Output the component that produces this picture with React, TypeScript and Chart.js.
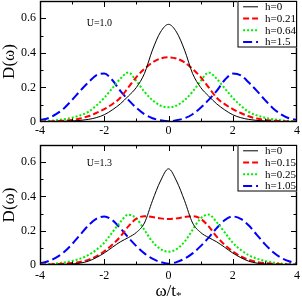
import React, { useEffect, useRef } from "react";
import { Chart, registerables } from "chart.js";

Chart.register(...registerables);

// ---- data ----
const omega = [-4, -3.75, -3.5, -3.25, -3, -2.75, -2.5, -2.25, -2, -1.75, -1.5, -1.25, -1, -0.75, -0.5, -0.25, 0, 0.25, 0.5, 0.75, 1, 1.25, 1.5, 1.75, 2, 2.25, 2.5, 2.75, 3, 3.25, 3.5, 3.75, 4];

const xTickValues = [-4, -2, 0, 2, 4];
const xTickLabels = ["-4", "-2", "0", "2", "4"];
const xMinorTicks = [-3, -1, 1, 3];
const yTickValues = [0, 0.2, 0.4, 0.6];
const yTickLabels = ["0", "0.2", "0.4", "0.6"];
const yMinorTicks = [0.1, 0.3, 0.5];

const topLabels = ["h=0", "h=0.21", "h=0.64", "h=1.5"];
const bottomLabels = ["h=0", "h=0.15", "h=0.25", "h=1.05"];

// U = 1.0 panel
const topH0 = [0.001, 0.002, 0.003, 0.004, 0.006, 0.009, 0.015, 0.025, 0.042, 0.07, 0.105, 0.15, 0.2, 0.28, 0.416, 0.52, 0.565, 0.52, 0.416, 0.28, 0.2, 0.15, 0.105, 0.07, 0.042, 0.025, 0.015, 0.009, 0.006, 0.004, 0.003, 0.002, 0.001];
const topH021 = [0.002, 0.003, 0.005, 0.008, 0.012, 0.02, 0.033, 0.052, 0.075, 0.103, 0.14, 0.2, 0.26, 0.307, 0.345, 0.367, 0.374, 0.367, 0.345, 0.307, 0.26, 0.2, 0.14, 0.103, 0.075, 0.052, 0.033, 0.02, 0.012, 0.008, 0.005, 0.003, 0.002];
const topH064 = [0.003, 0.006, 0.01, 0.016, 0.025, 0.038, 0.058, 0.095, 0.14, 0.195, 0.25, 0.286, 0.237, 0.175, 0.127, 0.095, 0.085, 0.095, 0.127, 0.175, 0.237, 0.286, 0.25, 0.195, 0.14, 0.095, 0.058, 0.038, 0.025, 0.016, 0.01, 0.006, 0.003];
const topH15 = [0.011, 0.022, 0.045, 0.08, 0.128, 0.18, 0.228, 0.27, 0.28, 0.243, 0.18, 0.128, 0.082, 0.045, 0.022, 0.01, 0.004, 0.01, 0.022, 0.045, 0.082, 0.128, 0.18, 0.243, 0.28, 0.27, 0.228, 0.18, 0.128, 0.08, 0.045, 0.022, 0.011];

// U = 1.3 panel
const botH0 = [0.001, 0.001, 0.002, 0.004, 0.006, 0.011, 0.022, 0.043, 0.07, 0.103, 0.135, 0.16, 0.19, 0.245, 0.375, 0.49, 0.561, 0.49, 0.375, 0.245, 0.19, 0.16, 0.135, 0.103, 0.07, 0.043, 0.022, 0.011, 0.006, 0.004, 0.002, 0.001, 0.001];
const botH015 = [0.002, 0.003, 0.005, 0.007, 0.011, 0.018, 0.03, 0.05, 0.08, 0.118, 0.165, 0.225, 0.27, 0.285, 0.28, 0.272, 0.268, 0.272, 0.28, 0.285, 0.27, 0.225, 0.165, 0.118, 0.08, 0.05, 0.03, 0.018, 0.011, 0.007, 0.005, 0.003, 0.002];
const botH025 = [0.003, 0.005, 0.009, 0.015, 0.024, 0.037, 0.057, 0.088, 0.13, 0.19, 0.25, 0.294, 0.272, 0.205, 0.136, 0.093, 0.078, 0.093, 0.136, 0.205, 0.272, 0.294, 0.25, 0.19, 0.13, 0.088, 0.057, 0.037, 0.024, 0.015, 0.009, 0.005, 0.003];
const botH105 = [0.01, 0.022, 0.043, 0.076, 0.122, 0.176, 0.23, 0.269, 0.283, 0.262, 0.215, 0.16, 0.11, 0.068, 0.037, 0.017, 0.008, 0.017, 0.037, 0.068, 0.11, 0.16, 0.215, 0.262, 0.283, 0.269, 0.23, 0.176, 0.122, 0.076, 0.043, 0.022, 0.01];

const SERIF = '"Liberation Serif", "Times New Roman", "DejaVu Serif", serif';

const lineStyles = [
  { color: "#000000", width: 1, dash: [] as number[] },
  { color: "#ff0000", width: 2, dash: [6, 3] },
  { color: "#00ee00", width: 2, dash: [2, 2] },
  { color: "#0000ff", width: 2, dash: [9, 4] },
];

type PanelProps = {
  top: number;
  height: number;
  areaTop: number;
  xAxisHeight: number;
  tickPad: number;
  series: number[][];
  labels: string[];
  uText: string;
  uX: number;
  uY: number;
  showXTitle: boolean;
};

function Panel(p: PanelProps) {
  const ref = useRef<HTMLCanvasElement>(null);
  useEffect(() => {
    const canvas = ref.current!;
    const deco = {
      id: "deco",
      afterDraw(chart: any) {
        const { ctx, chartArea: a, scales } = chart;
        const xs = scales.x;
        const ys = scales.y;
        ctx.save();
        ctx.fillStyle = "#000";
        ctx.strokeStyle = "#000";
        // panel label
        ctx.font = `10px ${SERIF}`;
        ctx.textAlign = "center";
        ctx.textBaseline = "middle";
        ctx.fillText(p.uText, xs.getPixelForValue(p.uX), ys.getPixelForValue(p.uY));
        // ticks (inward, all four sides)
        ctx.lineWidth = 1;
        const xt = (vals: number[], len: number) => {
          vals.forEach((v) => {
            const px = Math.round(xs.getPixelForValue(v)) + 0.5;
            ctx.beginPath();
            ctx.moveTo(px, a.bottom);
            ctx.lineTo(px, a.bottom - len);
            ctx.moveTo(px, a.top);
            ctx.lineTo(px, a.top + len);
            ctx.stroke();
          });
        };
        const yt = (vals: number[], len: number) => {
          vals.forEach((v) => {
            const py = Math.round(ys.getPixelForValue(v)) + 0.5;
            ctx.beginPath();
            ctx.moveTo(a.left, py);
            ctx.lineTo(a.left + len, py);
            ctx.moveTo(a.right, py);
            ctx.lineTo(a.right - len, py);
            ctx.stroke();
          });
        };
        xt(xTickValues.slice(1, -1), 6);
        xt(xMinorTicks, 3.5);
        yt(yTickValues.slice(1), 6);
        yt(yMinorTicks, 3.5);
        // frame
        ctx.lineWidth = 1.4;
        ctx.strokeRect(a.left + 0.5, a.top + 0.5, a.right - a.left - 1, a.bottom - a.top - 1);
        // legend
        const bw = 59.5;
        const bh = 46.5;
        const bx = a.right - bw;
        const by = a.top;
        ctx.fillStyle = "#fff";
        ctx.fillRect(bx, by, bw, bh);
        ctx.lineWidth = 1;
        ctx.strokeStyle = "#000";
        ctx.strokeRect(bx + 0.5, by + 0.5, bw - 1, bh - 1);
        chart.data.datasets.forEach((ds: any, i: number) => {
          const y = by + 5.8 + i * 11.7;
          ctx.strokeStyle = ds.borderColor;
          ctx.lineWidth = ds.borderWidth;
          ctx.setLineDash(ds.borderDash || []);
          ctx.beginPath();
          ctx.moveTo(bx + 5.6, y);
          ctx.lineTo(bx + 20.5, y);
          ctx.stroke();
          ctx.setLineDash([]);
          ctx.fillStyle = "#000";
          ctx.font = `11px ${SERIF}`;
          ctx.textAlign = "left";
          ctx.textBaseline = "middle";
          ctx.fillText(ds.label, bx + 27.6, y + 0.5);
        });
        // y title
        ctx.fillStyle = "#000";
        ctx.save();
        ctx.translate(9.5, (a.top + a.bottom) / 2);
        ctx.rotate(-Math.PI / 2);
        ctx.font = `17px ${SERIF}`;
        ctx.textAlign = "center";
        ctx.textBaseline = "middle";
        ctx.fillText("D(ω)", 0, 0);
        ctx.restore();
        // x title
        if (p.showXTitle) {
          ctx.font = `17px ${SERIF}`;
          const main = "ω/t";
          const w1 = ctx.measureText(main).width;
          ctx.font = `11px ${SERIF}`;
          const w2 = ctx.measureText("*").width;
          const x0 = (a.left + a.right) / 2 - (w1 + w2) / 2;
          const base = a.bottom + 30.7;
          ctx.textAlign = "left";
          ctx.textBaseline = "alphabetic";
          ctx.font = `17px ${SERIF}`;
          ctx.fillText(main, x0, base);
          ctx.font = `11px ${SERIF}`;
          ctx.fillText("*", x0 + w1, base + 3);
        }
        ctx.restore();
      },
    };

    const chart = new Chart(canvas, {
      type: "line",
      data: {
        datasets: p.series.map((s, i) => ({
          label: p.labels[i],
          data: omega.map((x, j) => ({ x, y: s[j] })),
          borderColor: lineStyles[i].color,
          borderWidth: lineStyles[i].width,
          borderDash: lineStyles[i].dash,
          pointRadius: 0,
          fill: false,
          cubicInterpolationMode: "monotone" as const,
        })),
      },
      options: {
        responsive: false,
        animation: false,
        devicePixelRatio: 1,
        layout: { padding: { top: p.areaTop, right: 5, left: 0, bottom: 0 } },
        plugins: { legend: { display: false }, tooltip: { enabled: false } },
        scales: {
          x: {
            type: "linear",
            min: -4,
            max: 4,
            grid: { display: false, drawTicks: false },
            border: { display: false },
            afterBuildTicks: (s: any) => {
              s.ticks = xTickValues.map((v) => ({ value: v }));
            },
            afterFit: (s: any) => {
              s.height = p.xAxisHeight;
              s.paddingLeft = 0;
              s.paddingRight = 0;
            },
            ticks: {
              autoSkip: false,
              maxRotation: 0,
              padding: p.tickPad,
              color: "#000",
              font: { family: SERIF, size: 12 },
              callback: (_v: any, i: number) => xTickLabels[i],
            },
          },
          y: {
            type: "linear",
            min: 0,
            max: 0.7,
            grid: { display: false, drawTicks: false },
            border: { display: false },
            afterBuildTicks: (s: any) => {
              s.ticks = yTickValues.map((v) => ({ value: v }));
            },
            afterFit: (s: any) => {
              s.width = 40;
              s.paddingTop = 0;
              s.paddingBottom = 0;
            },
            ticks: {
              autoSkip: false,
              padding: 4,
              color: "#000",
              font: { family: SERIF, size: 12 },
              callback: (_v: any, i: number) => yTickLabels[i],
            },
          },
        },
      } as any,
      plugins: [deco],
    });
    return () => chart.destroy();
  }, []);
  return (
    <canvas
      ref={ref}
      width={302}
      height={p.height}
      style={{ position: "absolute", left: 0, top: p.top, width: 302, height: p.height, display: "block" }}
    />
  );
}

export default function App() {
  return (
    <div style={{ position: "absolute", left: 0, top: 0, width: 302, height: 300, background: "#fff", overflow: "hidden" }}>
      <Panel
        top={0}
        height={143}
        areaTop={1}
        xAxisHeight={21}
        tickPad={2}
        series={[topH0, topH021, topH064, topH15]}
        labels={topLabels}
        uText="U=1.0"
        uX={-2.15}
        uY={0.57}
        showXTitle={false}
      />
      <Panel
        top={143}
        height={157}
        areaTop={2}
        xAxisHeight={35}
        tickPad={4}
        series={[botH0, botH015, botH025, botH105]}
        labels={bottomLabels}
        uText="U=1.3"
        uX={-2.15}
        uY={0.594}
        showXTitle={true}
      />
    </div>
  );
}
